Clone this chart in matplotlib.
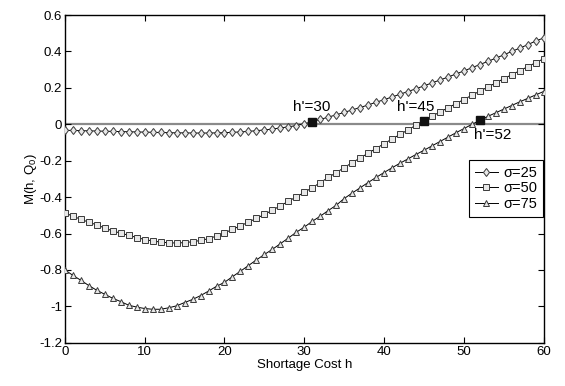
import matplotlib
matplotlib.use("Agg")
import matplotlib.pyplot as plt
import numpy as np

plt.rcParams['font.family'] = ['Liberation Sans', 'DejaVu Sans']
plt.rcParams['mathtext.fontset'] = 'custom'
plt.rcParams['mathtext.rm'] = 'Liberation Sans'
plt.rcParams['mathtext.it'] = 'Liberation Sans'

# shortage cost h = 0 .. 60
h = np.arange(0, 61)

# sigma = 25 (diamonds)
m25 = [-0.033, -0.034, -0.035, -0.036, -0.037, -0.038, -0.039, -0.040, -0.041, -0.042,
       -0.043, -0.044, -0.045, -0.046, -0.047, -0.047, -0.048, -0.048, -0.048, -0.047,
       -0.046, -0.044, -0.042, -0.039, -0.035, -0.031, -0.026, -0.020, -0.014, -0.007,
       0.003, 0.014, 0.027, 0.039, 0.052, 0.065, 0.079, 0.092, 0.106, 0.121,
       0.135, 0.150, 0.165, 0.180, 0.195, 0.211, 0.227, 0.243, 0.259, 0.276,
       0.293, 0.310, 0.328, 0.345, 0.363, 0.381, 0.400, 0.418, 0.437, 0.457,
       0.474]

# sigma = 50 (squares)
m50 = [-0.487, -0.505, -0.522, -0.538, -0.553, -0.570, -0.586, -0.598, -0.610, -0.622,
       -0.633, -0.641, -0.647, -0.651, -0.652, -0.650, -0.645, -0.638, -0.628, -0.614,
       -0.597, -0.577, -0.558, -0.537, -0.517, -0.495, -0.472, -0.448, -0.423, -0.399,
       -0.374, -0.348, -0.321, -0.292, -0.266, -0.238, -0.211, -0.185, -0.159, -0.133,
       -0.107, -0.081, -0.056, -0.031, -0.005, 0.020, 0.044, 0.067, 0.090, 0.113,
       0.136, 0.159, 0.182, 0.204, 0.227, 0.250, 0.272, 0.294, 0.316, 0.338,
       0.360]

# sigma = 75 (triangles)
m75 = [-0.800, -0.830, -0.857, -0.886, -0.912, -0.934, -0.956, -0.974, -0.994, -1.004,
       -1.012, -1.016, -1.016, -1.008, -0.997, -0.979, -0.962, -0.941, -0.916, -0.890,
       -0.868, -0.837, -0.807, -0.776, -0.745, -0.715, -0.687, -0.656, -0.625, -0.593,
       -0.565, -0.533, -0.505, -0.474, -0.445, -0.408, -0.378, -0.349, -0.320, -0.292,
       -0.265, -0.239, -0.214, -0.190, -0.166, -0.143, -0.119, -0.095, -0.071, -0.047,
       -0.024, -0.001, 0.022, 0.043, 0.063, 0.083, 0.103, 0.123, 0.142, 0.161,
       0.180]

series = [m25, m50, m75]
labels = ['σ=25', 'σ=50', 'σ=75']
markers = ['d', 's', '^']
msizes = [4.5, 4.2, 4.8]

# switching points h' (index into h, series index, label)
h_prime = [31, 45, 52]
h_prime_series = [0, 1, 2]
h_prime_labels = ["h'=30", "h'=45", "h'=52"]

xticks = [0, 10, 20, 30, 40, 50, 60]
yticks = [-1.2, -1.0, -0.8, -0.6, -0.4, -0.2, 0, 0.2, 0.4, 0.6]
yticklabels = ['-1.2', '-1', '-0.8', '-0.6', '-0.4', '-0.2', '0', '0.2', '0.4', '0.6']

fig = plt.figure(figsize=(5.65, 3.86), dpi=100)
ax = fig.add_axes([0.115, 0.112, 0.847, 0.849])

ax.plot([h[0], h[-1]], [0, 0], color='#8a8a8a', lw=1.6, zorder=1)

for vals, lab, mk, ms in zip(series, labels, markers, msizes):
    ax.plot(h, vals, color='black', lw=0.7, marker=mk, markersize=ms,
            markerfacecolor='#e8e8e8', markeredgecolor='#3a3a3a',
            markeredgewidth=0.7, label=lab, zorder=3)

for i, si in zip(h_prime, h_prime_series):
    ax.plot(h[i], series[si][i], marker='s', markersize=6, color='#111111', zorder=4)

# labels placed relative to their switching points
ax.text(h[31] - 0.1, 0.093, h_prime_labels[0], ha='center', va='center', fontsize=11)
ax.text(h[45] - 1.0, 0.096, h_prime_labels[1], ha='center', va='center', fontsize=11)
ax.text(h[52] + 1.6, -0.058, h_prime_labels[2], ha='center', va='center', fontsize=11)

ax.set_xlim(0, 60)
ax.set_ylim(-1.2, 0.6)
ax.set_xticks(xticks)
ax.set_yticks(yticks)
ax.set_yticklabels(yticklabels)
ax.tick_params(direction='in', top=True, right=True, length=4, width=0.8,
               labelsize=9.5, pad=2)
for sp in ax.spines.values():
    sp.set_linewidth(1.0)

ax.set_xlabel('Shortage Cost h', fontsize=9.5, labelpad=1)
ax.set_ylabel('M(h, Q$_0$)', fontsize=9.5, labelpad=0)

leg = ax.legend(loc='upper right', bbox_to_anchor=(1.0, 0.56), fontsize=10.5,
                frameon=True, fancybox=False, edgecolor='black', framealpha=1,
                handlelength=1.6, handletextpad=0.35, labelspacing=0.1,
                borderpad=0.4, borderaxespad=0.05)
leg.get_frame().set_linewidth(0.8)

fig.savefig('out.png', dpi=100)
